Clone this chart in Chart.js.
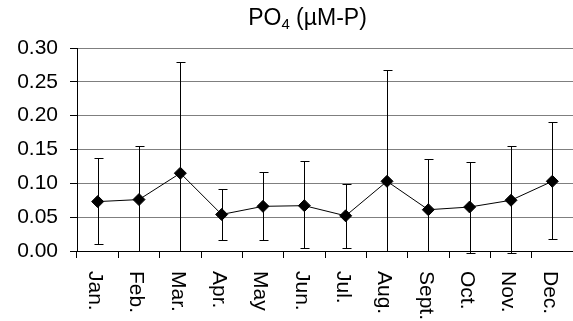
<!DOCTYPE html>
<html>
<head>
<meta charset="utf-8">
<script src="https://cdn.jsdelivr.net/npm/chart.js@4.4.1/dist/chart.umd.min.js"></script>
<style>
  html, body { margin: 0; padding: 0; overflow: hidden; background: #fff; }
  #wrap { width: 580px; height: 321px; }
</style>
</head>
<body>
<div id="wrap"><canvas id="grafico" width="580" height="321"></canvas></div>
<script>
// dados
const months = ['Jan.', 'Feb.', 'Mar.', 'Apr.', 'May', 'Jun.', 'Jul.', 'Aug.', 'Sept.', 'Oct.', 'Nov.', 'Dec.'];
const means = [0.073, 0.076, 0.115, 0.054, 0.066, 0.067, 0.052, 0.103, 0.061, 0.065, 0.075, 0.103];
const errHigh = [0.137, 0.155, 0.280, 0.091, 0.117, 0.133, 0.099, 0.267, 0.136, 0.131, 0.155, 0.190];
const errLow = [0.010, 0.000, 0.000, 0.016, 0.016, 0.004, 0.004, 0.000, 0.000, -0.003, -0.003, 0.017];
const yTicks = [0.00, 0.05, 0.10, 0.15, 0.20, 0.25, 0.30];

const FONT = '"Liberation Sans", Arial, sans-serif';

// barras de erro
const errorBars = {
  id: 'errorBars',
  beforeDatasetsDraw(chart) {
    const ctx = chart.ctx;
    const x = chart.scales.x;
    const y = chart.scales.y;
    ctx.save();
    ctx.strokeStyle = '#000';
    ctx.lineWidth = 1;
    months.forEach((m, i) => {
      const px = Math.round(x.getPixelForValue(i)) + 0.5;
      const top = Math.round(y.getPixelForValue(errHigh[i])) + 0.5;
      const bot = Math.round(y.getPixelForValue(errLow[i])) + 0.5;
      ctx.beginPath();
      ctx.moveTo(px, top);
      ctx.lineTo(px, bot);
      ctx.moveTo(px - 4, top);
      ctx.lineTo(px + 5, top);
      ctx.moveTo(px - 4, bot);
      ctx.lineTo(px + 5, bot);
      ctx.stroke();
    });
    ctx.restore();
  }
};

// rótulos verticais do eixo x e título com subscrito
const labelsAndTitle = {
  id: 'labelsAndTitle',
  afterDraw(chart) {
    const ctx = chart.ctx;
    const x = chart.scales.x;
    const area = chart.chartArea;
    ctx.save();
    ctx.fillStyle = '#000';
    ctx.font = '21px ' + FONT;
    ctx.textAlign = 'left';
    ctx.textBaseline = 'middle';
    months.forEach((m, i) => {
      ctx.save();
      ctx.translate(x.getPixelForValue(i) - 3, area.bottom + 20);
      ctx.rotate(Math.PI / 2);
      ctx.fillText(m, 0, 0);
      ctx.restore();
    });

    // título
    const big = '23px ' + FONT;
    const small = '15px ' + FONT;
    const parts = [['PO', big, 0], ['4', small, 4], [' (\u00b5M-P)', big, 0]];
    let total = 0;
    parts.forEach(p => { ctx.font = p[1]; total += ctx.measureText(p[0]).width; });
    let cx = 307.5 - total / 2;
    ctx.textBaseline = 'alphabetic';
    parts.forEach(p => {
      ctx.font = p[1];
      ctx.fillText(p[0], cx, 24.5 + p[2]);
      cx += ctx.measureText(p[0]).width;
    });
    ctx.restore();
  }
};

const ctx = document.getElementById('grafico').getContext('2d');
new Chart(ctx, {
  type: 'line',
  data: {
    labels: months,
    datasets: [{
      data: means,
      borderColor: '#000',
      borderWidth: 1,
      backgroundColor: '#000',
      pointStyle: 'rectRot',
      pointRadius: 6,
      pointBorderWidth: 1,
      pointBackgroundColor: '#000',
      pointBorderColor: '#000',
      tension: 0
    }]
  },
  options: {
    responsive: false,
    animation: false,
    events: [],
    layout: { padding: { top: 48, left: 0, right: 0, bottom: 0 } },
    plugins: {
      legend: { display: false },
      title: { display: false },
      tooltip: { enabled: false }
    },
    scales: {
      x: {
        offset: true,
        afterFit(scale) { scale.height = 70; },
        grid: {
          offset: true,
          drawOnChartArea: false,
          tickLength: 7,
          color: '#000'
        },
        border: { color: '#000', width: 1 },
        ticks: { display: false }
      },
      y: {
        min: 0,
        max: 0.3,
        afterFit(scale) { scale.width = 77; },
        afterBuildTicks(scale) { scale.ticks = yTicks.map(v => ({ value: v })); },
        grid: {
          color: '#7f7f7f',
          tickColor: '#000',
          tickLength: 7
        },
        border: { color: '#000', width: 1 },
        ticks: {
          padding: 12,
          color: '#000',
          font: { family: FONT, size: 21 },
          callback: v => v.toFixed(2)
        }
      }
    }
  },
  plugins: [errorBars, labelsAndTitle]
});
</script>
</body>
</html>
